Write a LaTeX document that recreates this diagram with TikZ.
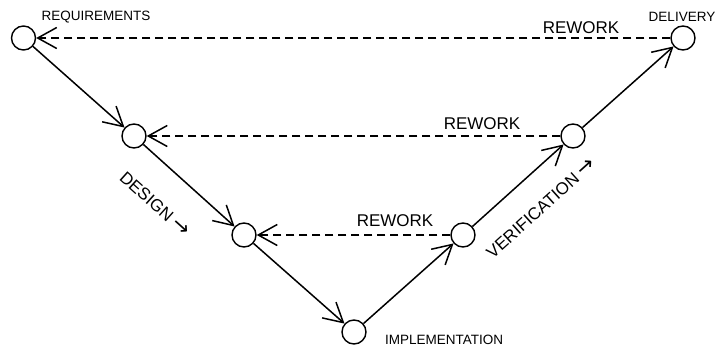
\documentclass[tikz,border=0pt]{standalone}
\usepackage{fontspec}
\setmainfont{Liberation Sans}
\newfontfamily\arrowfont{DejaVu Sans}
\usetikzlibrary{arrows.meta}
\newcommand{\bigarrow}{{\arrowfont\fontsize{21}{21}\selectfont →}}
\begin{document}
\begin{tikzpicture}[x=1pt,y=-1pt,
  stage/.style={draw,circle,minimum size=24pt,inner sep=0pt,line width=1.4pt,fill=white},
  small/.style={font=\fontsize{13.5}{14}\selectfont,inner sep=0pt},
  big/.style={font=\fontsize{17}{18}\selectfont,inner sep=0pt},
  flow/.style={line width=1.5pt,-{Straight Barb[length=19pt,width=21pt,line width=1.5pt]}},
  rework/.style={line width=1.5pt,dash pattern=on 8pt off 5pt,-{Straight Barb[length=19pt,width=21pt,line width=1.5pt]}}]
\useasboundingbox (0,0) rectangle (717,348);
\node[stage] (req) at (23.5,38) {};
\node[stage] (des) at (134,136) {};
\node[stage] (lo) at (244,235) {};
\node[stage] (imp) at (354,332) {};
\node[stage] (ro) at (463,235) {};
\node[stage] (ru) at (573,136) {};
\node[stage] (del) at (683,38) {};
\node[small] (treq) at (96,17) {REQUIREMENTS};
\node[small] (tdel) at (682,17) {DELIVERY};
\node[small] (timp) at (444,340) {IMPLEMENTATION};
\node[big] (rw1) at (581,27.5) {REWORK};
\node[big] (rw2) at (482,124) {REWORK};
\node[big] (rw3) at (395,221) {REWORK};
\node[big,rotate=-42] (tdes) at (155,204) {DESIGN \bigarrow};
\node[big,rotate=42] (tver) at (541,208) {VERIFICATION \bigarrow};
\draw[flow] (req) -- (des);
\draw[flow] (des) -- (lo);
\draw[flow] (lo) -- (imp);
\draw[flow] (imp) -- (ro);
\draw[flow] (ro) -- (ru);
\draw[flow] (ru) -- (del);
\draw[rework] (del) -- (req);
\draw[rework] (ru) -- (des);
\draw[rework] (ro) -- (lo);
\end{tikzpicture}
\end{document}
